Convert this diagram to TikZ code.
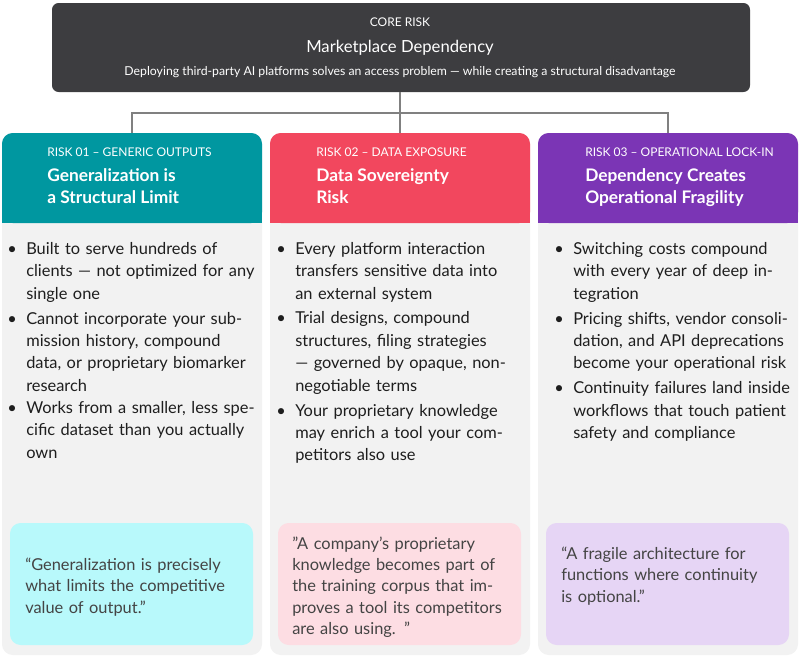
\documentclass[tikz,border=0pt]{standalone}
\usepackage{fontspec}
\setmainfont{Lato}
\usetikzlibrary{positioning}
\definecolor{coredark}{HTML}{3D3D40}
\definecolor{bodygray}{HTML}{F2F2F2}
\definecolor{teal01}{HTML}{0097A0}
\definecolor{red02}{HTML}{F2475E}
\definecolor{purple03}{HTML}{7B35B5}
\definecolor{quote01}{HTML}{B8F9FB}
\definecolor{quote02}{HTML}{FDDDE3}
\definecolor{quote03}{HTML}{E6D5F5}
\definecolor{textdark}{HTML}{1E1E1E}
\definecolor{quotetext}{HTML}{444444}
\tikzset{
  item/.style={anchor=north west, inner sep=0pt, text width=172pt, align=left,
    font=\fontsize{12.3}{16.8}\selectfont, text=textdark},
  quotetxt/.style={anchor=west, inner sep=0pt, text width=170pt, align=left,
    font=\fontsize{12.3}{16}\selectfont, text=quotetext},
  tag/.style={anchor=north west, inner sep=0pt, text=white, font=\fontsize{9}{11}\selectfont},
  title/.style={anchor=north west, inner sep=0pt, text=white, align=left,
    font=\bfseries\fontsize{13}{16.5}\selectfont},
}
\newcommand{\bul}{\llap{•\hspace{7pt}}}
\begin{document}
\begin{tikzpicture}[x=0.75pt,y=-0.75pt]
  \useasboundingbox (0,0) rectangle (800,657);
  % core risk
  \fill[coredark, rounded corners=5pt] (52,3) rectangle (750,92);
  \node[text=white, font=\fontsize{9}{11}\selectfont] (coretag) at (400,22) {CORE RISK};
  \node[text=white, font=\fontsize{12.5}{15}\selectfont] (coretitle) at (400,48) {Marketplace Dependency};
  \node[text=white, font=\fontsize{9.2}{11}\selectfont] (coresub) at (400,72) {Deploying third-party AI platforms solves an access problem — while creating a structural disadvantage};
  \coordinate (core) at (400,92);
  \coordinate (col1top) at (132,133);
  \coordinate (col2top) at (400,133);
  \coordinate (col3top) at (668,133);
  \draw[gray, line width=1.2pt] (core) -- (400,113) -| (col1top);
  \draw[gray, line width=1.2pt] (400,113) -| (col3top);
  \draw[gray, line width=1.2pt] (core) -- (col2top);
  % columns
  \foreach \x/\c in {2/teal01, 270/red02, 538/purple03}{
    \fill[bodygray, rounded corners=8pt] (\x,133) rectangle ++(260,522);
    \fill[\c, rounded corners=8pt] (\x,133) rectangle ++(260,90);
    \fill[\c] (\x,200) rectangle ++(260,23);
  }
  \fill[quote01, rounded corners=8pt] (10,523) rectangle (253,645);
  \fill[quote02, rounded corners=8pt] (278,523) rectangle (521,645);
  \fill[quote03, rounded corners=8pt] (546,523) rectangle (789,645);
  % column 1
  \node[tag] (tag1) at (47,148) {RISK 01 – GENERIC OUTPUTS};
  \node[title] (title1) at (47,168) {Generalization is\\a Structural Limit};
  \node[item] (b11) at (26,242) {\bul Built to serve hundreds of clients — not optimized for any single one};
  \node[item, below=7pt of b11.south west, anchor=north west] (b12) {\bul Cannot incorporate your submission history, compound data, or proprietary biomarker research};
  \node[item, below=7pt of b12.south west, anchor=north west] (b13) {\bul Works from a smaller, less specific dataset than you actually own};
  \node[quotetxt] (q1) at (25,587) {“Generalization is precisely what limits the competitive value of output."};
  % column 2
  \node[tag] (tag2) at (316,148) {RISK 02 – DATA EXPOSURE};
  \node[title] (title2) at (316,168) {Data Sovereignty\\Risk};
  \node[item] (b21) at (295,242) {\bul Every platform interaction transfers sensitive data into an external system};
  \node[item, below=7pt of b21.south west, anchor=north west] (b22) {\bul Trial designs, compound structures, filing strategies — governed by opaque, non-negotiable terms};
  \node[item, below=7pt of b22.south west, anchor=north west] (b23) {\bul Your proprietary knowledge may enrich a tool your competitors also use};
  \node[quotetxt] (q2) at (292,587) {"A company's proprietary knowledge becomes part of the training corpus that improves a tool its competitors are also using. "};
  % column 3
  \node[tag] (tag3) at (585,148) {RISK 03 – OPERATIONAL LOCK-IN};
  \node[title] (title3) at (585,168) {Dependency Creates\\Operational Fragility};
  \node[item] (b31) at (573,242) {\bul Switching costs compound with every year of deep integration};
  \node[item, below=7pt of b31.south west, anchor=north west] (b32) {\bul Pricing shifts, vendor consolidation, and API deprecations become your operational risk};
  \node[item, below=7pt of b32.south west, anchor=north west] (b33) {\bul Continuity failures land inside workflows that touch patient safety and compliance};
  \node[quotetxt] (q3) at (561,576) {“A fragile architecture for functions where continuity is optional."};
\end{tikzpicture}
\end{document}
